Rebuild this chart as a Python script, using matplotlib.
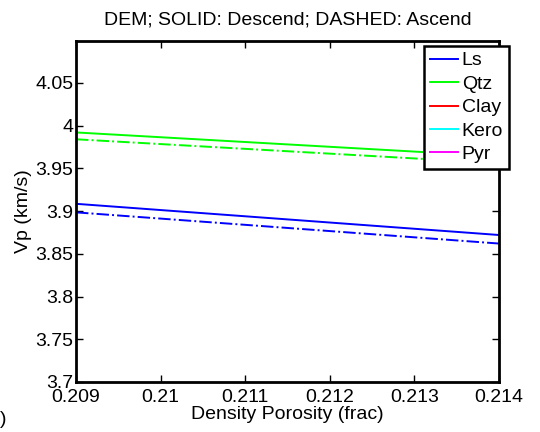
import matplotlib
matplotlib.use("Agg")
import matplotlib.pyplot as plt
from matplotlib.ticker import FixedLocator, FixedFormatter

plt.rcParams['font.family'] = ['Liberation Sans', 'DejaVu Sans']

# Density porosity endpoints
porosity = [0.209, 0.214]

# Vp (km/s): descending (solid) and ascending (dash-dot) branches
ls_desc = [3.9085, 3.872]
ls_asc = [3.8985, 3.862]
qtz_desc = [3.992, 3.964]
qtz_asc = [3.984, 3.956]

labels = ['Ls', 'Qtz', 'Clay', 'Kero', 'Pyr']
colors = ['#0000ff', '#00ff00', '#ff0000', '#00ffff', '#ff00ff']

xticks = [0.209, 0.210, 0.211, 0.212, 0.213, 0.214]
xticklabels = ['0.209', '0.21', '0.211', '0.212', '0.213', '0.214']
yticks = [3.70, 3.75, 3.80, 3.85, 3.90, 3.95, 4.00, 4.05]
yticklabels = ['3.7', '3.75', '3.8', '3.85', '3.9', '3.95', '4', '4.05']

fig = plt.figure(figsize=(5.4, 4.32), dpi=100)
ax = fig.add_axes([76/540, 1 - 382/432, (499 - 76)/540, (382 - 41)/432])

handles = []
h, = ax.plot(porosity, ls_desc, '-', color=colors[0], lw=1.4)
handles.append(h)
ax.plot(porosity, ls_asc, '-.', color=colors[0], lw=1.4)
h, = ax.plot(porosity, qtz_desc, '-', color=colors[1], lw=1.4)
handles.append(h)
ax.plot(porosity, qtz_asc, '-.', color=colors[1], lw=1.4)
# Clay, Kero and Pyr fall outside the plotted range
for c in colors[2:]:
    h, = ax.plot([], [], '-', color=c, lw=1.4)
    handles.append(h)

ax.set_xlim(0.209, 0.214)
ax.set_ylim(3.7, 4.099)
ax.xaxis.set_major_locator(FixedLocator(xticks))
ax.xaxis.set_major_formatter(FixedFormatter(xticklabels))
ax.yaxis.set_major_locator(FixedLocator(yticks))
ax.yaxis.set_major_formatter(FixedFormatter(yticklabels))
ax.tick_params(direction='in', length=5, width=1, top=True, right=True,
               labelsize=14)
ax.tick_params(axis='x', pad=5)
ax.tick_params(axis='y', pad=2)
for s in ax.spines.values():
    s.set_linewidth(2)

ax.set_title('DEM; SOLID: Descend; DASHED: Ascend', fontsize=14, pad=12)
ax.set_xlabel('Density Porosity (frac)', fontsize=14, labelpad=0)
ax.set_ylabel('Vp (km/s)', fontsize=14, labelpad=2)

leg = ax.legend(handles, labels, loc='upper right',
                bbox_to_anchor=(509/540, 1 - 46/432),
                bbox_transform=fig.transFigure, fontsize=14,
                fancybox=False, framealpha=1, edgecolor='black',
                handlelength=1.45, handletextpad=0.2, borderpad=0.3,
                labelspacing=0.3, borderaxespad=0)
leg.get_frame().set_linewidth(1.8)

fig.text(0, 1 - 420/432, ')', fontsize=14, va='center', ha='left')

fig.savefig('out.png', dpi=100)
